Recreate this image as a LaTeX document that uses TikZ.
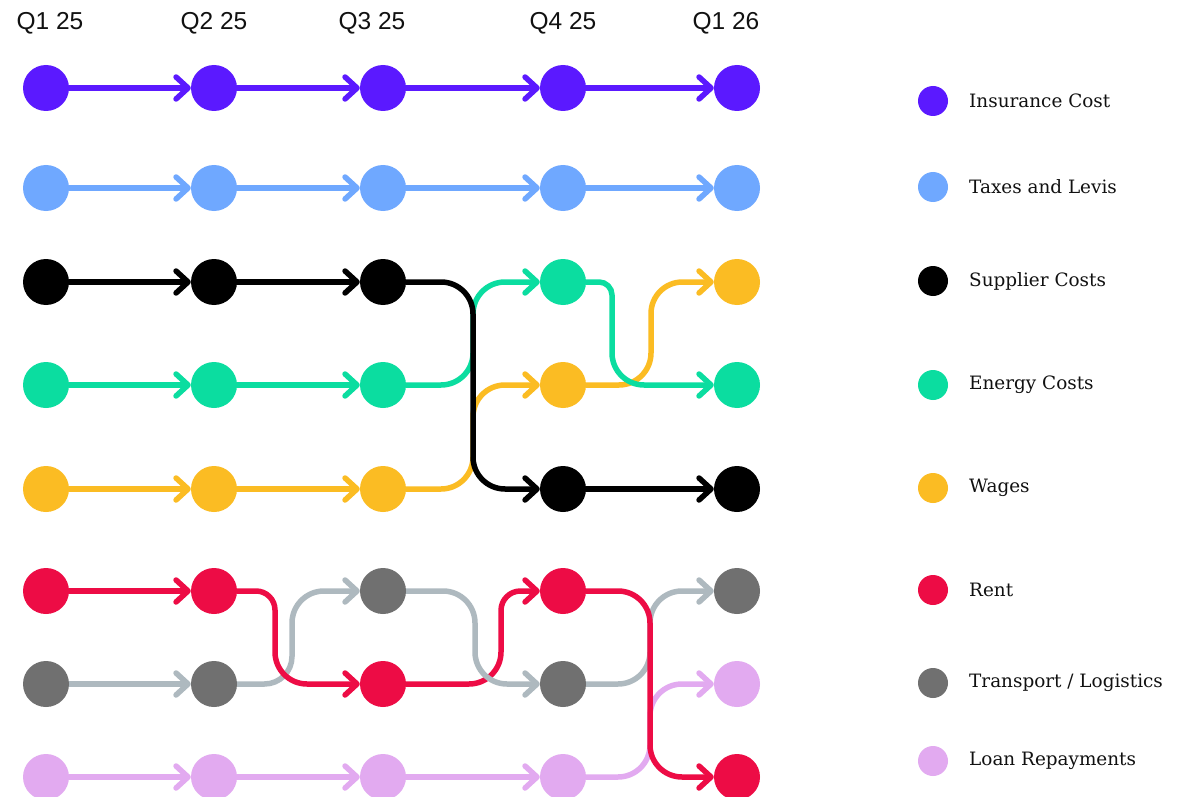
\documentclass[tikz,border=0pt]{standalone}
\usepackage{fontspec}
\usetikzlibrary{arrows.meta}
\newfontfamily\headfont{Liberation Sans}
\newfontfamily\legfont{DejaVu Serif}
\definecolor{cins}{HTML}{5B19FF}
\definecolor{ctax}{HTML}{6FA8FF}
\definecolor{csup}{HTML}{000000}
\definecolor{cene}{HTML}{0BDDA0}
\definecolor{cwag}{HTML}{FBBC23}
\definecolor{cren}{HTML}{ED0C45}
\definecolor{ctra}{HTML}{707070}
\definecolor{ctral}{HTML}{AEB9BF}
\definecolor{cloa}{HTML}{E2AAF0}
\definecolor{ctxt}{HTML}{111111}
\pgfdeclarelayer{paper}
\pgfdeclarelayer{background}
\pgfsetlayers{paper,background,main}
\tikzset{
  dot/.style={circle, fill=#1, draw=none, minimum size=46pt, inner sep=0pt},
  legdot/.style={circle, fill=#1, draw=none, minimum size=30pt, inner sep=0pt},
  conn/.style={draw=#1, line width=5.5pt, line cap=round, line join=round,
    -{Straight Barb[length=12pt,width=22pt,round]}},
  head/.style={font=\headfont\fontsize{24.5}{28}\selectfont, text=ctxt, inner sep=0pt},
  legtext/.style={font=\legfont\fontsize{18.4}{22}\selectfont, text=ctxt, anchor=west, inner sep=0pt},
}
\begin{document}
\begin{tikzpicture}[x=1pt,y=-1pt]
\useasboundingbox (0,0) rectangle (1189,797);
\begin{pgfonlayer}{paper}
\fill[white] (0,0) rectangle (1189,797);
\end{pgfonlayer}
% header
\node[head] (h1) at (50,23) {Q1 25};
\node[head] (h2) at (214,23) {Q2 25};
\node[head] (h3) at (372,23) {Q3 25};
\node[head] (h4) at (563,23) {Q4 25};
\node[head] (h5) at (726,23) {Q1 26};
% columns 1 and 2 (same order)
\foreach \c/\x in {1/46,2/214}{
  \node[dot=cins] (ins\c) at (\x,88) {};
  \node[dot=ctax] (tax\c) at (\x,188) {};
  \node[dot=csup] (sup\c) at (\x,282) {};
  \node[dot=cene] (ene\c) at (\x,385) {};
  \node[dot=cwag] (wag\c) at (\x,489) {};
  \node[dot=cren] (ren\c) at (\x,591) {};
  \node[dot=ctra] (tra\c) at (\x,684) {};
  \node[dot=cloa] (loa\c) at (\x,777) {};
}
% column 3
\node[dot=cins] (ins3) at (383,88) {};
\node[dot=ctax] (tax3) at (383,188) {};
\node[dot=csup] (sup3) at (383,282) {};
\node[dot=cene] (ene3) at (383,385) {};
\node[dot=cwag] (wag3) at (383,489) {};
\node[dot=ctra] (tra3) at (383,591) {};
\node[dot=cren] (ren3) at (383,684) {};
\node[dot=cloa] (loa3) at (383,777) {};
% column 4
\node[dot=cins] (ins4) at (563,88) {};
\node[dot=ctax] (tax4) at (563,188) {};
\node[dot=cene] (ene4) at (563,282) {};
\node[dot=cwag] (wag4) at (563,385) {};
\node[dot=csup] (sup4) at (563,489) {};
\node[dot=cren] (ren4) at (563,591) {};
\node[dot=ctra] (tra4) at (563,684) {};
\node[dot=cloa] (loa4) at (563,777) {};
% column 5
\node[dot=cins] (ins5) at (737,88) {};
\node[dot=ctax] (tax5) at (737,188) {};
\node[dot=cwag] (wag5) at (737,282) {};
\node[dot=cene] (ene5) at (737,385) {};
\node[dot=csup] (sup5) at (737,489) {};
\node[dot=ctra] (tra5) at (737,591) {};
\node[dot=cloa] (loa5) at (737,684) {};
\node[dot=cren] (ren5) at (737,777) {};
% legend
\foreach \n/\col/\y/\t in {lins/cins/101/{Insurance Cost}, ltax/ctax/187/{Taxes and Levis},
  lsup/csup/281/{Supplier Costs}, lene/cene/385/{Energy Costs}, lwag/cwag/488/{Wages},
  lren/cren/590/{Rent}, ltra/ctra/683/{Transport / Logistics}, lloa/cloa/761/{Loan Repayments}}{
  \node[legdot=\col] (\n) at (933,\y) {};
  \node[legtext] (\n t) at (969,\y) {\t};
}
\begin{pgfonlayer}{background}
% straight connectors
\foreach \a/\b in {1/2,2/3,3/4,4/5}{
  \draw[conn=cins] (ins\a.east) -- (ins\b.west);
  \draw[conn=ctax] (tax\a.east) -- (tax\b.west);
}
\foreach \a/\b in {1/2,2/3}{
  \draw[conn=csup] (sup\a.east) -- (sup\b.west);
  \draw[conn=cene] (ene\a.east) -- (ene\b.west);
  \draw[conn=cwag] (wag\a.east) -- (wag\b.west);
}
\draw[conn=cren] (ren1.east) -- (ren2.west);
\draw[conn=ctral] (tra1.east) -- (tra2.west);
\foreach \a/\b in {1/2,2/3,3/4}{
  \draw[conn=cloa] (loa\a.east) -- (loa\b.west);
}
\draw[conn=csup] (sup4.east) -- (sup5.west);
% col3 -> col4 upper
\draw[conn=cene] (ene3.east) -- (441,385) .. controls (458.7,385) and (473,370.7) .. (473,353)
  -- (473,314) .. controls (473,296.3) and (487.3,282) .. (505,282) -- (ene4.west);
\draw[conn=cwag] (wag3.east) -- (441,489) .. controls (458.7,489) and (473,474.7) .. (473,457)
  -- (473,417) .. controls (473,399.3) and (487.3,385) .. (505,385) -- (wag4.west);
\draw[conn=csup] (sup3.east) -- (441,282) .. controls (458.7,282) and (473,296.3) .. (473,314)
  -- (473,457) .. controls (473,474.7) and (487.3,489) .. (505,489) -- (sup4.west);
% col4 -> col5 upper
\draw[conn=cwag] (wag4.east) -- (619,385) .. controls (636.7,385) and (651,370.7) .. (651,353)
  -- (651,313.5) .. controls (651,296.1) and (665.1,282) .. (682.5,282) -- (wag5.west);
\draw[conn=cene] (ene4.east) -- (599,282) .. controls (606.2,282) and (612,287.8) .. (612,295)
  -- (612,353) .. controls (612,370.7) and (626.3,385) .. (644,385) -- (ene5.west);
% col2 -> col3 lower
\draw[conn=ctral] (tra2.east) -- (264.5,684) .. controls (279.7,684) and (292,671.7) .. (292,656.5)
  -- (292,623) .. controls (292,605.3) and (306.3,591) .. (324,591) -- (tra3.west);
\draw[conn=cren] (ren2.east) -- (256,591) .. controls (266.5,591) and (275,599.5) .. (275,610)
  -- (275,652) .. controls (275,669.7) and (289.3,684) .. (307,684) -- (ren3.west);
% col3 -> col4 lower
\draw[conn=cren] (ren3.east) -- (469,684) .. controls (486.7,684) and (501,669.7) .. (501,652)
  -- (501,610.5) .. controls (501,599.7) and (509.7,591) .. (520.5,591) -- (ren4.west);
\draw[conn=ctral] (tra3.east) -- (443,591) .. controls (460.7,591) and (475,605.3) .. (475,623)
  -- (475,652) .. controls (475,669.7) and (489.3,684) .. (507,684) -- (tra4.west);
% col4 -> col5 lower
\draw[conn=ctral] (tra4.east) -- (618,684) .. controls (635.7,684) and (650,669.7) .. (650,652)
  -- (650,623) .. controls (650,605.3) and (664.3,591) .. (682,591) -- (tra5.west);
\draw[conn=cloa] (loa4.east) -- (618,777) .. controls (635.7,777) and (650,762.7) .. (650,745)
  -- (650,716) .. controls (650,698.3) and (664.3,684) .. (682,684) -- (loa5.west);
\draw[conn=cren] (ren4.east) -- (618,591) .. controls (635.7,591) and (650,605.3) .. (650,623)
  -- (650,745) .. controls (650,762.7) and (664.3,777) .. (682,777) -- (ren5.west);
\end{pgfonlayer}
\end{tikzpicture}
\end{document}
